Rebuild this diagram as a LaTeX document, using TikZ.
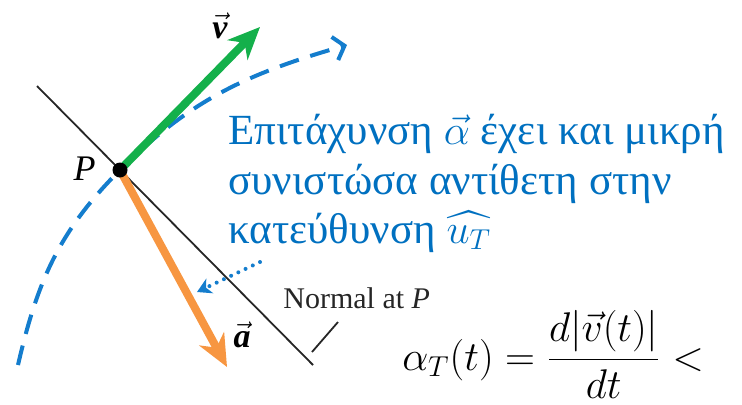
\documentclass[tikz,border=0pt]{standalone}
\usepackage{amsmath,amssymb}
\usepackage{fontspec}
\setmainfont{Liberation Serif}
\usetikzlibrary{arrows.meta,positioning,calc}
\definecolor{kek}{RGB}{0,112,192}
\definecolor{palyakek}{RGB}{20,125,205}
\definecolor{zold}{RGB}{20,176,75}
\definecolor{narancs}{RGB}{247,150,65}
\tikzset{
  pont/.style={circle,fill=black,inner sep=0pt,minimum size=7.5pt},
  vek/.style={line width=4pt,-{Stealth[length=16pt,width=14pt,inset=5pt]}},
  palya/.style={palyakek,line width=2pt,dash pattern=on 10pt off 6pt,
    -{Straight Barb[length=5pt,width=12pt,line width=2pt]}},
  normvon/.style={black!85,line width=0.9pt},
  potty/.style={palyakek,line width=2pt,line cap=round,dash pattern=on 0pt off 4pt,
    -{Stealth[length=7pt,width=8pt,inset=2pt]}},
  cimke/.style={inner sep=0pt,anchor=base west},
  gorog/.style={cimke,kek,font=\fontsize{21.5}{25}\selectfont},
}

\begin{document}
\begin{tikzpicture}[x=0.5pt,y=-0.5pt]
  \useasboundingbox (0,0) rectangle (742,404);
  % palya es normalis
  \coordinate (c1) at (18,365);
  \coordinate (c2) at (347,45);
  \coordinate (P) at (120,170);
  \coordinate (n1) at (37,86);
  \coordinate (n2) at (313,365);
  \draw[normvon] (n1) -- (n2);
  \draw[palya] (c1) to[out=77,in=225] (P) to[out=45,in=196] (c2);
  % vektorok
  \coordinate (vcsucs) at (260,27);
  \coordinate (acsucs) at (227,367);
  \draw[vek,zold] (P) -- (vcsucs);
  \draw[vek,narancs] (P) -- (acsucs);
  \node[pont] (pontP) at (P) {};
  \node[inner sep=0pt,anchor=base east,font=\fontsize{18}{18}\selectfont\itshape]
    (Pcimke) at (96,180) {P};
  \node[inner sep=0pt,font=\fontsize{17}{17}\selectfont] (vcimke) at (220,26)
    {$\vec{\mbox{\bfseries\itshape v}}$};
  \node[inner sep=0pt,font=\fontsize{17}{17}\selectfont] (acimke) at (242,335)
    {$\vec{\mbox{\bfseries\itshape a}}$};
  % normal felirat
  \node[cimke,black!85,font=\fontsize{15}{15}\selectfont] (normcimke) at (283,308)
    {Normal at \textit{P}};
  \coordinate (t1) at (312,352);
  \coordinate (t2) at (338,322);
  \draw[normvon] (t2) -- (t1);
  % pontozott nyil
  \coordinate (d1) at (260,262);
  \coordinate (d2) at (197,292);
  \draw[potty] (d1) -- (d2);
  % gorog szoveg
  \node[gorog] (sorA) at (228,144) {Επιτάχυνση $\vec{\alpha}$ έχει και μικρή};
  \node[gorog] (sorB) at (228,194) {συνιστώσα αντίθετη στην};
  \node[gorog] (sorC) at (228,243) {κατεύθυνση $\widehat{u_T}$};
  % keplet
  \node[cimke,font=\fontsize{21}{25}\selectfont] (keplet) at (402,370)
    {$\alpha_T(t)=\dfrac{d|\vec{v}(t)|}{dt}<$};
\end{tikzpicture}
\end{document}
